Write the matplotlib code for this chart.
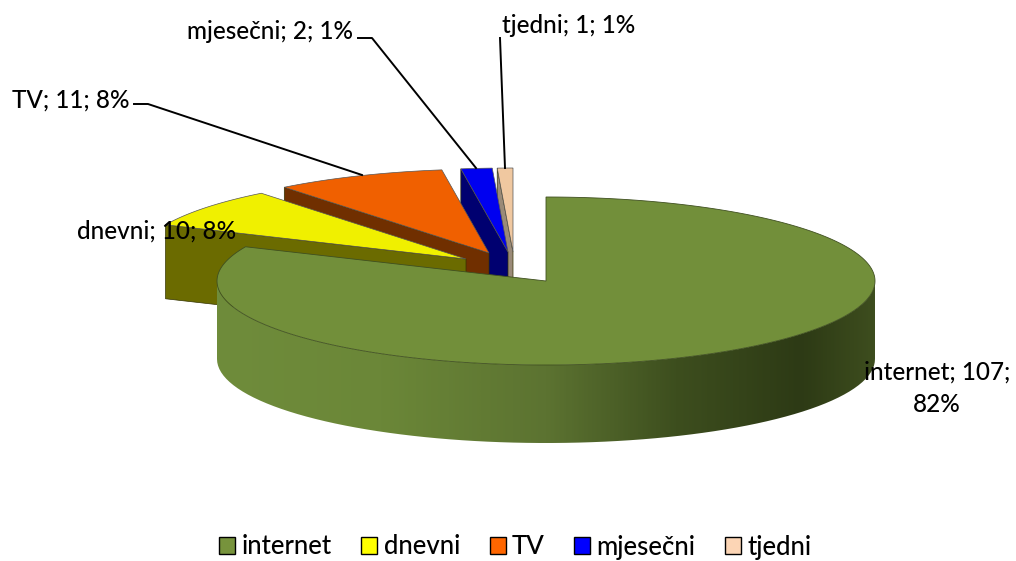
import matplotlib
matplotlib.use("Agg")
import matplotlib.pyplot as plt
from matplotlib.colors import LinearSegmentedColormap
from matplotlib.patches import Patch, PathPatch, Polygon
from matplotlib.path import Path
import numpy as np

names = ["internet", "dnevni", "TV", "mjesečni", "tjedni"]
values = [107, 10, 11, 2, 1]
percents = [82, 8, 8, 1, 1]

top_colors = ["#728f3a", "#f0f000", "#f06000", "#0000f0", "#f0c8a0"]
wall_colors = ["#5a7030", "#6b6b00", "#702f00", "#000070", "#9a8a78"]
legend_colors = ["#77933c", "#ffff00", "#ff6600", "#0000ff", "#fcd5b5"]

# ellipse of the pie in pixels, y pointing down
cx, cy = 546, 281
rx, ry = 329, 84
depth = [78, 74, 74, 74, 74]
# where each slice's tip was pulled to
tips = [(546, 281), (466, 259), (489, 253), (508, 252), (513, 252)]

plt.rcParams["font.family"] = ["Lato", "DejaVu Sans"]
plt.rcParams["font.weight"] = "medium"
FS = 17.5
LEGEND_FS = 18.5


def rim(tip, a0, a1, n=80):
    a = np.radians(np.linspace(a0, a1, n))
    return np.column_stack([tip[0] + rx * np.sin(a), tip[1] - ry * np.cos(a)])


fig = plt.figure(figsize=(10.16, 5.61), dpi=100)
ax = fig.add_axes([0, 0, 1, 1])
ax.axis("off")

# slice angles, clockwise from the top
ends = np.cumsum(values) / sum(values) * 360
starts = np.r_[0, ends[:-1]]

# small slices, back to front
for i in [4, 3, 2, 1]:
    tip = tips[i]
    arc = rim(tip, starts[i], ends[i])
    wall = [arc[0], tip, (tip[0], tip[1] + depth[i]), (arc[0][0], arc[0][1] + depth[i])]
    ax.add_patch(Polygon(wall, fc=wall_colors[i], ec="#333300", lw=0.5, zorder=2))
    ax.add_patch(Polygon(np.vstack([[tip], arc]), fc=top_colors[i], ec="#555555", lw=0.5, zorder=3))

# internet slice: front wall with shading, then the top
tip = tips[0]
front = rim(tip, 90, 270)
wall = np.vstack([front, front[::-1] + [0, depth[0]]])
wall_patch = PathPatch(Path(np.vstack([wall, wall[0]])), fc="none", ec="none", zorder=4)
ax.add_patch(wall_patch)
shade = LinearSegmentedColormap.from_list(
    "shade",
    [(0, "#3d4d1e"), (0.11, "#2d3a15"), (0.3, "#3d4e1e"), (0.5, "#5c7331"), (0.75, "#6b8738"), (1, "#6f8c3b")],
)
img = ax.imshow(np.linspace(0, 1, 400)[None, :], cmap=shade, aspect="auto", zorder=4,
                extent=[cx + rx, cx - rx, cy + ry + depth[0], cy - 5])
img.set_clip_path(wall_patch)
ax.add_patch(Polygon(np.vstack([[tip], rim(tip, starts[0], ends[0], 300)]),
                     fc=top_colors[0], ec="#3f4f20", lw=0.6, zorder=5))

# labels and leader lines
ax.plot([134, 148, 362], [104, 104, 175], color="black", lw=1.4, zorder=6)
ax.plot([358, 372, 476], [38, 38, 168], color="black", lw=1.4, zorder=6)
ax.plot([500, 505], [38, 168], color="black", lw=1.4, zorder=6)

labels = [f"{n}; {v}; {p}%" for n, v, p in zip(names, values, percents)]
ax.text(937, 388, labels[0].replace("107; ", "107;\n"), ha="center", va="center", fontsize=FS,
        linespacing=1.5, zorder=7)
ax.text(157, 231, labels[1], ha="center", va="center", fontsize=FS, zorder=7)
ax.text(71, 100, labels[2], ha="center", va="center", fontsize=FS, zorder=7)
ax.text(270, 31, labels[3], ha="center", va="center", fontsize=FS, zorder=7)
ax.text(569, 25, labels[4], ha="center", va="center", fontsize=FS, zorder=7)

handles = [Patch(fc=c, ec="black", lw=1) for c in legend_colors]
ax.legend(handles, names, loc="center", bbox_to_anchor=(515.5, 547), bbox_transform=ax.transData,
          ncol=5, frameon=False, fontsize=LEGEND_FS, handlelength=0.62, handleheight=0.6,
          handletextpad=0.25, columnspacing=1.15, borderpad=0)

ax.set_xlim(0, 1016)
ax.set_ylim(561, 0)

fig.savefig("out.png", dpi=100)
